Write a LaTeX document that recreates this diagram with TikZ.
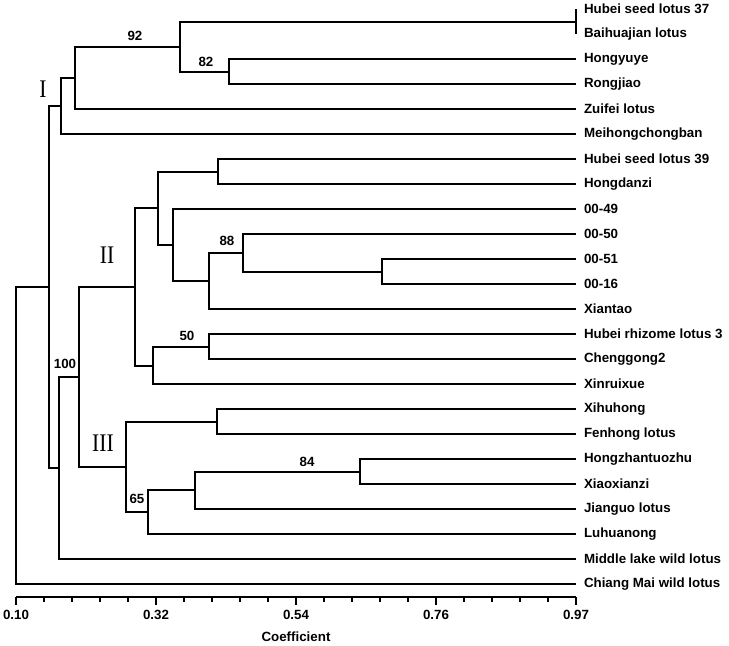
\documentclass[tikz,border=0pt]{standalone}
\usepackage{fontspec}
\setmainfont{Liberation Sans}
\newfontfamily\cladefont{Liberation Serif}
\usepackage{tikz}
\usetikzlibrary{positioning}

\begin{document}
\begin{tikzpicture}[
    x=0.75pt, y=-0.75pt,
    branch/.style={line width=1.5pt},
    leaf/.style={anchor=west, inner xsep=6pt, inner ysep=1pt, outer sep=0pt, font=\bfseries\fontsize{10}{12}\selectfont},
    boot/.style={font=\bfseries\fontsize{10}{12}\selectfont, inner sep=0pt},
    clade/.style={font=\cladefont\fontsize{19}{20}\selectfont, inner sep=0pt},
    axis/.style={line width=1.5pt}
]
\useasboundingbox (0,0) rectangle (729,646);

% Leaves
\node[leaf] (hsl37) at (576,9) {Hubei seed lotus 37};
\node[leaf] (bhj) at (576,34) {Baihuajian lotus};
\node[leaf] (hyy) at (576,59) {Hongyuye};
\node[leaf] (rj) at (576,84) {Rongjiao};
\node[leaf] (zf) at (576,109) {Zuifei lotus};
\node[leaf] (mhcb) at (576,134) {Meihongchongban};
\node[leaf] (hsl39) at (576,159) {Hubei seed lotus 39};
\node[leaf] (hdz) at (576,184) {Hongdanzi};
\node[leaf] (l49) at (576,209) {00-49};
\node[leaf] (l50) at (576,234) {00-50};
\node[leaf] (l51) at (576,259) {00-51};
\node[leaf] (l16) at (576,284) {00-16};
\node[leaf] (xt) at (576,309) {Xiantao};
\node[leaf] (hrl3) at (576,334) {Hubei rhizome lotus 3};
\node[leaf] (cg2) at (576,359) {Chenggong2};
\node[leaf] (xrx) at (576,384) {Xinruixue};
\node[leaf] (xhh) at (576,409) {Xihuhong};
\node[leaf] (fh) at (576,434) {Fenhong lotus};
\node[leaf] (hztz) at (576,459) {Hongzhantuozhu};
\node[leaf] (xxz) at (576,484) {Xiaoxianzi};
\node[leaf] (jg) at (576,509) {Jianguo lotus};
\node[leaf] (lhn) at (576,534) {Luhuanong};
\node[leaf] (mlw) at (576,559) {Middle lake wild lotus};
\node[leaf] (cmw) at (576,584) {Chiang Mai wild lotus};

% Internal nodes
\coordinate (nA) at (576,22);
\coordinate (nC) at (229,72);
\coordinate (nB) at (180,47);
\coordinate (nD) at (75,78);
\coordinate (nE) at (61,106);
\coordinate (nL) at (218,172);
\coordinate (nP) at (382,272);
\coordinate (nO) at (243,253);
\coordinate (nN) at (209,281);
\coordinate (nM) at (173,245);
\coordinate (nK) at (158,208);
\coordinate (nR) at (209,347);
\coordinate (nQ) at (153,366);
\coordinate (nJ) at (135,287);
\coordinate (nT) at (217,422);
\coordinate (nW) at (360,472);
\coordinate (nV) at (195,490);
\coordinate (nU) at (148,512);
\coordinate (nS) at (126,467);
\coordinate (nH) at (79,377);
\coordinate (nG) at (59,468);
\coordinate (nF) at (49,287);
\coordinate (root) at (16,436);

% Branches
\draw[branch] (hsl37.west) -| (nA) |- (bhj.west);
\draw[branch] (hyy.west) -| (nC) |- (rj.west);
\draw[branch] (nA) -| (nB) |- (nC);
\draw[branch] (nB) -| (nD) |- (zf.west);
\draw[branch] (nD) -| (nE) |- (mhcb.west);
\draw[branch] (hsl39.west) -| (nL) |- (hdz.west);
\draw[branch] (l51.west) -| (nP) |- (l16.west);
\draw[branch] (l50.west) -| (nO) |- (nP);
\draw[branch] (nO) -| (nN) |- (xt.west);
\draw[branch] (l49.west) -| (nM) |- (nN);
\draw[branch] (nL) -| (nK) |- (nM);
\draw[branch] (hrl3.west) -| (nR) |- (cg2.west);
\draw[branch] (nR) -| (nQ) |- (xrx.west);
\draw[branch] (nK) -| (nJ) |- (nQ);
\draw[branch] (xhh.west) -| (nT) |- (fh.west);
\draw[branch] (hztz.west) -| (nW) |- (xxz.west);
\draw[branch] (nW) -| (nV) |- (jg.west);
\draw[branch] (nV) -| (nU) |- (lhn.west);
\draw[branch] (nT) -| (nS) |- (nU);
\draw[branch] (nJ) -| (nH) |- (nS);
\draw[branch] (nH) -| (nG) |- (mlw.west);
\draw[branch] (nE) -| (nF) |- (nG);
\draw[branch] (nF) -| (root) |- (cmw.west);

% Bootstrap values
\node[boot] (b92) at (135,36) {92};
\node[boot] (b82) at (206,62) {82};
\node[boot] (b88) at (227,241) {88};
\node[boot] (b50) at (187,336) {50};
\node[boot] (b100) at (65,364) {100};
\node[boot] (b84) at (307,462) {84};
\node[boot] (b65) at (137,499) {65};

% Clusters
\node[clade] (cI) at (43,89) {\scalebox{0.85}[1]{I}};
\node[clade] (cII) at (107,255) {\scalebox{0.85}[1]{II}};
\node[clade] (cIII) at (103,443) {\scalebox{0.85}[1]{III}};

% Axis
\coordinate (ax0) at (16,597);
\coordinate (ax1) at (576,597);
\draw[axis] (ax0) -- (ax1);
\foreach \i in {0,...,20}
    \draw[axis] ({16+\i*28},597) -- ++(0,5);
\foreach \i/\v in {0/0.10,5/0.32,10/0.54,15/0.76,20/0.97} {
    \draw[axis] ({16+\i*28},597) -- ++(0,8);
    \node[boot] (tk\i) at ({16+\i*28},615) {\v};
}
\node[boot] (coef) at (296,637) {Coefficient};

\end{tikzpicture}
\end{document}
